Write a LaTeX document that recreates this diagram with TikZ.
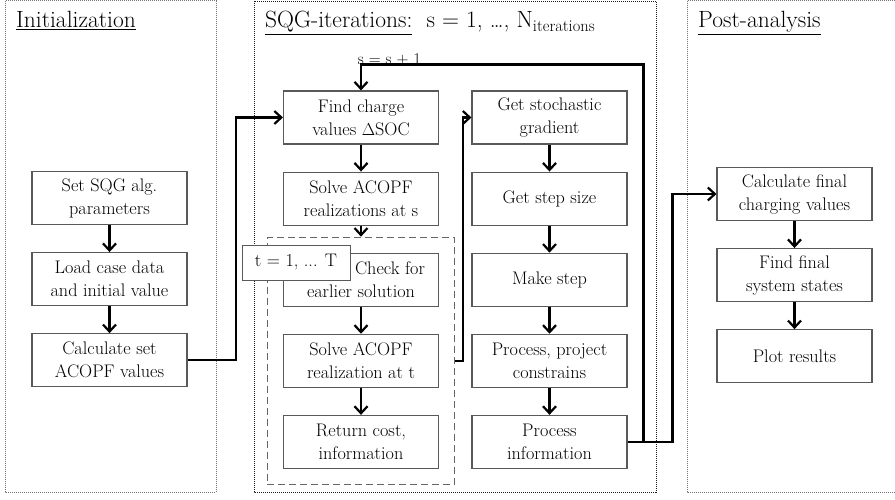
\documentclass[tikz,border=0pt]{standalone}
\usetikzlibrary{positioning,fit,arrows.meta}

\tikzset{
  procbox/.style={draw=black!65, line width=1.1pt, minimum width=155pt, minimum height=53pt,
                  align=center, inner sep=2pt, font=\fontsize{18.2}{23}\selectfont},
  flow/.style={line width=2.3pt, -{Straight Barb[length=7pt,width=13pt,line width=2.2pt]}},
  panel/.style={draw=black!55, line width=1pt, densely dotted},
  title/.style={anchor=base west, inner sep=0pt, font=\fontsize{23.5}{28}\selectfont},
  node distance=27pt
}

\begin{document}
\begin{tikzpicture}[x=1pt, y=-1pt]
    \useasboundingbox (0,0) rectangle (895,500);

    % panels
    \draw [panel] (5,1) rectangle (216,492);
    \draw [panel, draw=black!90, line width=0.8pt] (254,1) rectangle (656,492);
    \draw [panel] (895,1) -- (687,1) -- (687,492) -- (895,492);

    \node [title] (tinit) at (16,28)  {\underline{Initialization}};
    \node [title] (tsqg)  at (265,28) {\underline{SQG-iterations:}\ \ s = 1, \ldots, N\textsubscript{iterations}};
    \node [title] (tpost) at (698,28) {\underline{Post-analysis}};

    % initialization
    \node [procbox] (setpar) at (109.5,198)   {Set SQG alg.\\ parameters};
    \node [procbox] [below=of setpar] (loadcase) {Load case data\\ and initial value};
    \node [procbox] [below=of loadcase] (calcset) {Calculate set\\ ACOPF values};

    % SQG iterations, left column
    \node [procbox] (findchg) at (361,117.5)  {Find charge\\ values $\Delta$SOC};
    \node [procbox] [below=of findchg] (solves)   {Solve ACOPF\\ realizations at s};
    \node [procbox] [below=of solves]  (checksol) {\hspace*{58pt}Check for\\ earlier solution};
    \node [procbox] [below=of checksol] (solvet)  {Solve ACOPF\\ realization at t};
    \node [procbox] [below=of solvet]  (retcost)  {Return cost,\\ information};

    \node [draw=black!60, line width=1pt, dashed, dash pattern=on 7pt off 4pt, inner sep=15.5pt,
           fit=(checksol)(retcost)] (tloop) {};
    \node [draw=black!65, line width=1pt, fill=white, minimum width=108pt, minimum height=35pt,
           inner sep=2pt, font=\fontsize{18.2}{23}\selectfont] (tcount) at (296,262.5) {t = 1, ... T};

    % SQG iterations, right column
    \node [procbox] (stochgrad) at (549.5,117.5) {Get stochastic\\ gradient};
    \node [procbox] [below=of stochgrad] (stepsize) {Get step size};
    \node [procbox] [below=of stepsize]  (makestep) {Make step};
    \node [procbox] [below=of makestep]  (project)  {Process, project\\ constrains};
    \node [procbox] [below=of project]   (procinfo) {Process\\ information};

    % post-analysis
    \node [procbox] (calcfin) at (794.5,194) {Calculate final\\ charging values};
    \node [procbox] [below=of calcfin] (finalst) {Find final\\ system states};
    \node [procbox] [below=of finalst] (plotres) {Plot results};

    % connectors
    \draw [flow] (setpar) -- (loadcase);
    \draw [flow] (loadcase) -- (calcset);
    \draw [flow] (findchg) -- (solves);
    \draw [flow] (solves) -- (tloop.north);
    \draw [flow] (checksol) -- (solvet);
    \draw [flow] (solvet) -- (retcost);
    \draw [flow] (stochgrad) -- (stepsize);
    \draw [flow] (stepsize) -- (makestep);
    \draw [flow] (makestep) -- (project);
    \draw [flow] (project) -- (procinfo);
    \draw [flow] (calcfin) -- (finalst);
    \draw [flow] (finalst) -- (plotres);

    \draw [flow] (calcset.east) -| ([xshift=-47pt]findchg.west) -- (findchg.west);
    \draw [flow] (tloop.east |- solvet.east) -- ++(8,0) |- (stochgrad.west);
    \draw [flow] (procinfo.east) -- ++(16,0) |- ([yshift=26pt]findchg.north) -- (findchg.north);
    \draw [flow] (procinfo.east) -- ++(45,0) |- (calcfin.west);

    \node [anchor=base, inner sep=0pt, font=\fontsize{16.5}{20}\selectfont] (sinc) at (389.5,65) {s = s + 1};
\end{tikzpicture}
\end{document}
